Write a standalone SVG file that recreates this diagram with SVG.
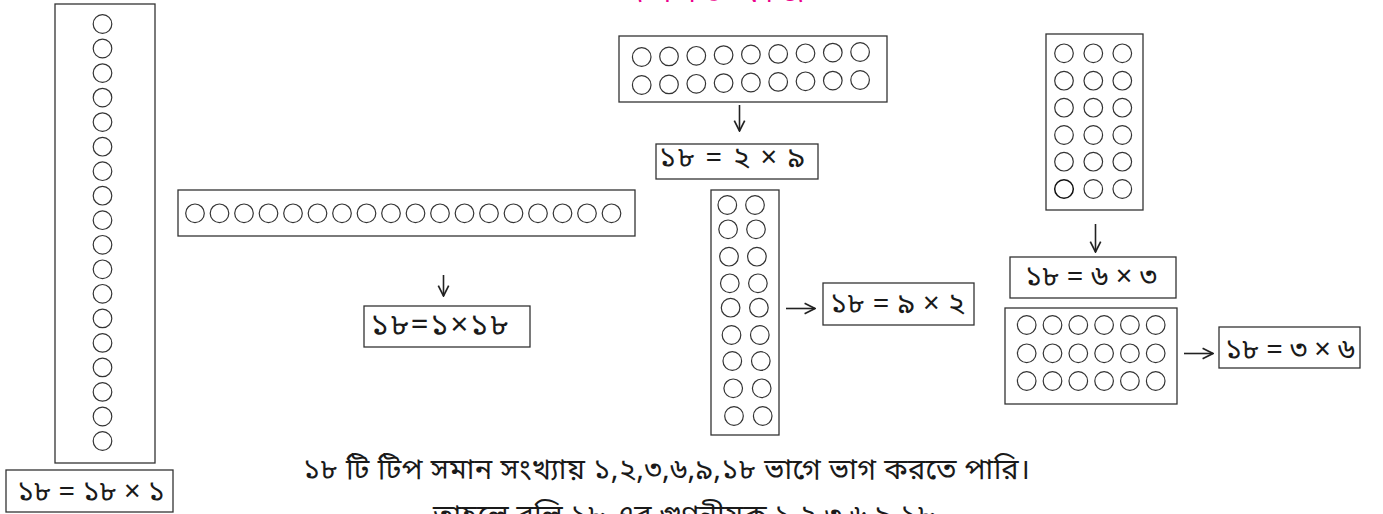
<svg xmlns="http://www.w3.org/2000/svg" width="1383" height="514" viewBox="0 0 1383 514">
<style>
.box{fill:#fff;stroke:#333;stroke-width:1.3}
.dot{fill:none;stroke:#333;stroke-width:1.2}
.lbl{font-family:"Noto Sans Bengali","Noto Serif Bengali","Lohit Bengali","FreeSerif","Noto Sans",sans-serif;font-size:29px;fill:#1a1a1a;text-anchor:middle}
.txt{font-family:"Noto Sans Bengali","Noto Serif Bengali","Lohit Bengali","FreeSerif","Noto Sans",sans-serif;font-size:29px;fill:#1a1a1a}
.arr{fill:none;stroke:#222;stroke-width:1.6}
</style>
<defs>
<marker id="ah" viewBox="0 0 10 10" refX="9" refY="5" markerWidth="13" markerHeight="13" markerUnits="userSpaceOnUse" orient="auto">
<path d="M1,1 L9,5 L1,9" fill="none" stroke="#222" stroke-width="1.3"/>
</marker>
</defs>
<rect width="1383" height="514" fill="#fff"/>
<text x="716" y="2" textLength="177" lengthAdjust="spacing" style="font-family:'Noto Sans Bengali','Noto Sans',sans-serif;font-size:30px;fill:#ec008c;text-anchor:middle">দলগত কাজ</text>

<g id="n1">
<rect class="box" x="55" y="4" width="100" height="459"/>
<circle class="dot" cx="102.5" cy="24" r="9.3"/>
<circle class="dot" cx="102.5" cy="48.5" r="9.3"/>
<circle class="dot" cx="102.5" cy="73.1" r="9.3"/>
<circle class="dot" cx="102.5" cy="97.6" r="9.3"/>
<circle class="dot" cx="102.5" cy="122.1" r="9.3"/>
<circle class="dot" cx="102.5" cy="146.7" r="9.3"/>
<circle class="dot" cx="102.5" cy="171.2" r="9.3"/>
<circle class="dot" cx="102.5" cy="195.7" r="9.3"/>
<circle class="dot" cx="102.5" cy="220.2" r="9.3"/>
<circle class="dot" cx="102.5" cy="244.8" r="9.3"/>
<circle class="dot" cx="102.5" cy="269.3" r="9.3"/>
<circle class="dot" cx="102.5" cy="293.8" r="9.3"/>
<circle class="dot" cx="102.5" cy="318.4" r="9.3"/>
<circle class="dot" cx="102.5" cy="342.9" r="9.3"/>
<circle class="dot" cx="102.5" cy="367.4" r="9.3"/>
<circle class="dot" cx="102.5" cy="391.9" r="9.3"/>
<circle class="dot" cx="102.5" cy="416.5" r="9.3"/>
<circle class="dot" cx="102.5" cy="441" r="9.3"/>
</g>
<g id="l1">
<rect class="box" x="6" y="470" width="167" height="42"/>
<text class="lbl" x="91" y="501" textLength="148" lengthAdjust="spacing">১৮ = ১৮ × ১</text>
</g>

<g id="n2">
<rect class="box" x="178" y="190" width="457" height="46"/>
<circle class="dot" cx="195" cy="213.3" r="9.3"/>
<circle class="dot" cx="219.5" cy="213.3" r="9.3"/>
<circle class="dot" cx="244" cy="213.3" r="9.3"/>
<circle class="dot" cx="268.5" cy="213.3" r="9.3"/>
<circle class="dot" cx="293" cy="213.3" r="9.3"/>
<circle class="dot" cx="317.5" cy="213.3" r="9.3"/>
<circle class="dot" cx="342" cy="213.3" r="9.3"/>
<circle class="dot" cx="366.5" cy="213.3" r="9.3"/>
<circle class="dot" cx="391" cy="213.3" r="9.3"/>
<circle class="dot" cx="415.5" cy="213.3" r="9.3"/>
<circle class="dot" cx="440" cy="213.3" r="9.3"/>
<circle class="dot" cx="464.5" cy="213.3" r="9.3"/>
<circle class="dot" cx="489" cy="213.3" r="9.3"/>
<circle class="dot" cx="513.5" cy="213.3" r="9.3"/>
<circle class="dot" cx="538" cy="213.3" r="9.3"/>
<circle class="dot" cx="562.5" cy="213.3" r="9.3"/>
<circle class="dot" cx="587" cy="213.3" r="9.3"/>
<circle class="dot" cx="611.5" cy="213.3" r="9.3"/>
</g>
<g id="l2">
<rect class="box" x="364" y="306" width="166" height="41"/>
<text class="lbl" x="439.5" y="335" style="font-size:31px" textLength="138" lengthAdjust="spacing">১৮=১×১৮</text>
</g>

<g id="n3">
<rect class="box" x="619" y="36" width="268" height="66"/>
<circle class="dot" cx="641.7" cy="57" r="9.3"/>
<circle class="dot" cx="669" cy="56.4" r="9.3"/>
<circle class="dot" cx="696.3" cy="55.8" r="9.3"/>
<circle class="dot" cx="723.6" cy="55.1" r="9.3"/>
<circle class="dot" cx="750.9" cy="54.5" r="9.3"/>
<circle class="dot" cx="778.2" cy="53.9" r="9.3"/>
<circle class="dot" cx="805.5" cy="53.3" r="9.3"/>
<circle class="dot" cx="832.8" cy="52.6" r="9.3"/>
<circle class="dot" cx="860.1" cy="52" r="9.3"/>
<circle class="dot" cx="641.7" cy="85" r="9.3"/>
<circle class="dot" cx="669" cy="84.4" r="9.3"/>
<circle class="dot" cx="696.3" cy="83.8" r="9.3"/>
<circle class="dot" cx="723.6" cy="83.1" r="9.3"/>
<circle class="dot" cx="750.9" cy="82.5" r="9.3"/>
<circle class="dot" cx="778.2" cy="81.9" r="9.3"/>
<circle class="dot" cx="805.5" cy="81.3" r="9.3"/>
<circle class="dot" cx="832.8" cy="80.6" r="9.3"/>
<circle class="dot" cx="860.1" cy="80" r="9.3"/>
</g>
<g id="l3">
<rect class="box" x="656" y="144" width="162" height="35"/>
<text class="lbl" x="732" y="167" textLength="146" lengthAdjust="spacing">১৮ = ২ × ৯</text>
</g>

<g id="n4">
<rect class="box" x="711" y="190" width="68" height="245"/>
<circle class="dot" cx="727.3" cy="205" r="9.3"/>
<circle class="dot" cx="728.1" cy="229.3" r="9.3"/>
<circle class="dot" cx="729" cy="256.7" r="9.3"/>
<circle class="dot" cx="729.8" cy="283.3" r="9.3"/>
<circle class="dot" cx="730.6" cy="307.7" r="9.3"/>
<circle class="dot" cx="731.5" cy="335" r="9.3"/>
<circle class="dot" cx="732.3" cy="361" r="9.3"/>
<circle class="dot" cx="733.2" cy="388.3" r="9.3"/>
<circle class="dot" cx="734" cy="416" r="9.3"/>
<circle class="dot" cx="755" cy="205" r="9.3"/>
<circle class="dot" cx="756" cy="229.3" r="9.3"/>
<circle class="dot" cx="756.9" cy="256.7" r="9.3"/>
<circle class="dot" cx="757.9" cy="283.3" r="9.3"/>
<circle class="dot" cx="758.9" cy="307.7" r="9.3"/>
<circle class="dot" cx="759.8" cy="335" r="9.3"/>
<circle class="dot" cx="760.8" cy="361" r="9.3"/>
<circle class="dot" cx="761.7" cy="388.3" r="9.3"/>
<circle class="dot" cx="762.7" cy="416" r="9.3"/>
</g>
<g id="l4">
<rect class="box" x="823" y="283" width="151" height="42"/>
<text class="lbl" x="897.5" y="313" textLength="135" lengthAdjust="spacing">১৮ = ৯ × ২</text>
</g>

<g id="n5">
<rect class="box" x="1046" y="34" width="97" height="176"/>
<circle class="dot" cx="1064" cy="53.3" r="9.3"/>
<circle class="dot" cx="1093.3" cy="53.3" r="9.3"/>
<circle class="dot" cx="1122.3" cy="53.3" r="9.3"/>
<circle class="dot" cx="1064" cy="80.7" r="9.3"/>
<circle class="dot" cx="1093.3" cy="80.7" r="9.3"/>
<circle class="dot" cx="1122.3" cy="80.7" r="9.3"/>
<circle class="dot" cx="1064" cy="107.7" r="9.3"/>
<circle class="dot" cx="1093.3" cy="107.7" r="9.3"/>
<circle class="dot" cx="1122.3" cy="107.7" r="9.3"/>
<circle class="dot" cx="1064" cy="135" r="9.3"/>
<circle class="dot" cx="1093.3" cy="135" r="9.3"/>
<circle class="dot" cx="1122.3" cy="135" r="9.3"/>
<circle class="dot" cx="1064" cy="161.7" r="9.3"/>
<circle class="dot" cx="1093.3" cy="161.7" r="9.3"/>
<circle class="dot" cx="1122.3" cy="161.7" r="9.3"/>
<circle class="dot" cx="1064" cy="189" r="9.3" style="stroke:#111;stroke-width:1.5"/>
<circle class="dot" cx="1093.3" cy="189" r="9.3"/>
<circle class="dot" cx="1122.3" cy="189" r="9.3"/>
</g>
<g id="l5">
<rect class="box" x="1010" y="257" width="166" height="41"/>
<text class="lbl" x="1091" y="286" textLength="132" lengthAdjust="spacing">১৮ = ৬ × ৩</text>
</g>

<g id="n6">
<rect class="box" x="1005" y="308" width="172" height="96"/>
<circle class="dot" cx="1026.7" cy="325" r="9.3"/>
<circle class="dot" cx="1052.5" cy="325" r="9.3"/>
<circle class="dot" cx="1078.3" cy="325" r="9.3"/>
<circle class="dot" cx="1104.1" cy="325" r="9.3"/>
<circle class="dot" cx="1129.9" cy="325" r="9.3"/>
<circle class="dot" cx="1155.7" cy="325" r="9.3"/>
<circle class="dot" cx="1026.7" cy="353.3" r="9.3"/>
<circle class="dot" cx="1052.5" cy="353.3" r="9.3"/>
<circle class="dot" cx="1078.3" cy="353.3" r="9.3"/>
<circle class="dot" cx="1104.1" cy="353.3" r="9.3"/>
<circle class="dot" cx="1129.9" cy="353.3" r="9.3"/>
<circle class="dot" cx="1155.7" cy="353.3" r="9.3"/>
<circle class="dot" cx="1026.7" cy="381" r="9.3"/>
<circle class="dot" cx="1052.5" cy="381" r="9.3"/>
<circle class="dot" cx="1078.3" cy="381" r="9.3"/>
<circle class="dot" cx="1104.1" cy="381" r="9.3"/>
<circle class="dot" cx="1129.9" cy="381" r="9.3"/>
<circle class="dot" cx="1155.7" cy="381" r="9.3"/>
</g>
<g id="l6">
<rect class="box" x="1219" y="327" width="141" height="41"/>
<text class="lbl" x="1290" y="359" textLength="130" lengthAdjust="spacing">১৮ = ৩ × ৬</text>
</g>

<g id="connectors">
<line class="arr" x1="443.5" y1="275" x2="443.5" y2="296" marker-end="url(#ah)"/>
<line class="arr" x1="739.5" y1="105" x2="739.5" y2="131" marker-end="url(#ah)"/>
<line class="arr" x1="786" y1="308.5" x2="815" y2="308.5" marker-end="url(#ah)"/>
<line class="arr" x1="1095.5" y1="224" x2="1095.5" y2="252" marker-end="url(#ah)"/>
<line class="arr" x1="1184" y1="353.5" x2="1213" y2="353.5" marker-end="url(#ah)"/>
</g>

<text class="txt" x="303" y="479" textLength="727" lengthAdjust="spacing">১৮ টি টিপ সমান সংখ্যায় ১,২,৩,৬,৯,১৮ ভাগে ভাগ করতে পারি।</text>
<text class="txt" x="433" y="525" textLength="502" lengthAdjust="spacing">তাহলে বলি ১৮ এর গুণনীয়ক ১,২,৩,৬,৯,১৮</text>
</svg>
